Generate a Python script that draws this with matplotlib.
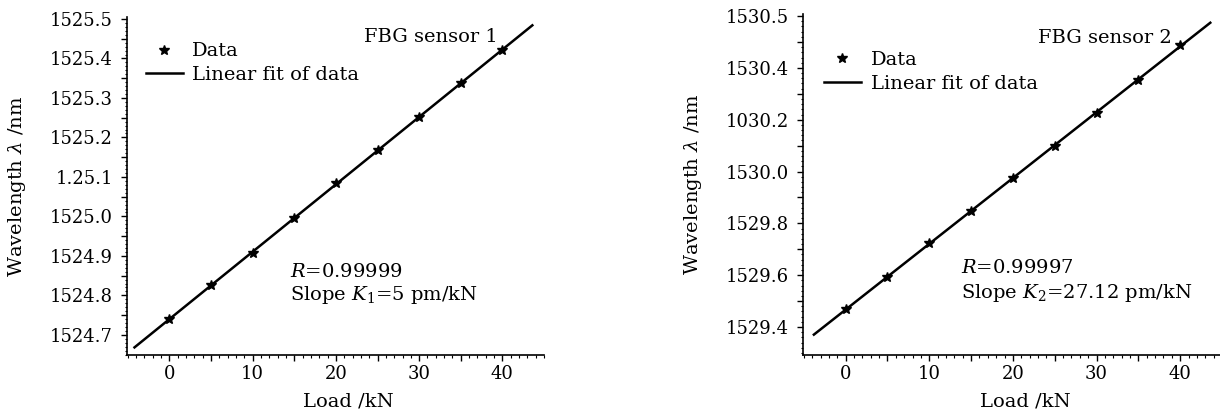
import numpy as np
import matplotlib
matplotlib.use("Agg")
import matplotlib.pyplot as plt
from matplotlib.ticker import FixedLocator, FixedFormatter, MultipleLocator

plt.rcParams['font.family'] = ['DejaVu Serif']
plt.rcParams['mathtext.fontset'] = 'dejavuserif'

# ---------------- data ----------------
load_kN = [0, 5, 10, 15, 20, 25, 30, 35, 40]
wl_sensor1 = [1524.740, 1524.827, 1524.907, 1524.995, 1525.084,
              1525.168, 1525.251, 1525.337, 1525.422]
wl_sensor2 = [1529.468, 1529.594, 1529.723, 1529.849, 1529.974,
              1530.099, 1530.225, 1530.354, 1530.489]
fit_range1 = [-4.2, 43.6]
fit_range2 = [-3.8, 43.6]

x_major = [0, 5, 10, 15, 20, 25, 30, 35, 40]
x_labels = ['0', '', '10', '', '20', '', '30', '', '40']

y1_major = [1524.70, 1524.75, 1524.80, 1524.85, 1524.90, 1524.95, 1525.00,
            1525.05, 1525.10, 1525.15, 1525.20, 1525.25, 1525.30, 1525.35,
            1525.40, 1525.45, 1525.50]
y1_labels = ['1524.7', '', '1524.8', '', '1524.9', '', '1525.0', '',
             '1.25.1', '', '1525.2', '', '1525.3', '', '1525.4', '', '1525.5']

y2_major = [1529.4, 1529.5, 1529.6, 1529.7, 1529.8, 1529.9, 1530.0,
            1530.1, 1530.2, 1530.3, 1530.4, 1530.5, 1530.6]
y2_labels = ['1529.4', '', '1529.6', '', '1529.8', '', '1530.0', '',
             '1030.2', '', '1530.4', '', '1530.5']

sensor_titles = ['FBG sensor 1', 'FBG sensor 2']
r_texts = [r'$R$=0.99999', r'$R$=0.99997']
slope_texts = [r'Slope $K_1$=5 pm/kN', r'Slope $K_2$=27.12 pm/kN']

# ---------------- figure ----------------
fig = plt.figure(figsize=(12.2, 4.16), dpi=100)
W, H = 1220, 416

def make_axes(l, r, t, b):
    return fig.add_axes([l / W, 1 - b / H, (r - l) / W, (b - t) / H])

ax1 = make_axes(127, 544, 17, 355)
ax2 = make_axes(803, 1222, 14, 355)

configs = [
    (ax1, wl_sensor1, fit_range1, y1_major, y1_labels, (1524.649, 1525.505), 0.01,
     (0.045, 0.925), (0.888, 0.940), (0.39, 0.246), (0.39, 0.178)),
    (ax2, wl_sensor2, fit_range2, y2_major, y2_labels, (1529.292, 1530.608), 0.02,
     (0.05, 0.892), (0.880, 0.930), (0.376, 0.255), (0.376, 0.182)),
]

TICK_FS = 13
TEXT_FS = 14

for i, (ax, wl, frange, ymaj, ylab, ylim, yminor, leg_anchor, title_pos,
        r_pos, s_pos) in enumerate(configs):
    coef = np.polyfit(load_kN, wl, 1)
    fx = np.array(frange)
    ax.plot(fx, np.polyval(coef, fx), color='black', lw=1.8,
            label='Linear fit of data', zorder=2)
    ax.plot(load_kN, wl, linestyle='none', marker='*', markersize=7.5,
            color='black', label='Data', zorder=3)

    ax.set_xlim(-5.1, 45)
    ax.set_ylim(*ylim)

    for s in ['top', 'right']:
        ax.spines[s].set_visible(False)
    for s in ['left', 'bottom']:
        ax.spines[s].set_linewidth(1.2)

    ax.xaxis.set_major_locator(FixedLocator(x_major))
    ax.xaxis.set_major_formatter(FixedFormatter(x_labels))
    ax.xaxis.set_minor_locator(MultipleLocator(1))
    ax.yaxis.set_major_locator(FixedLocator(ymaj))
    ax.yaxis.set_major_formatter(FixedFormatter(ylab))
    ax.yaxis.set_minor_locator(MultipleLocator(yminor))

    ax.tick_params(axis='both', which='major', direction='out', length=4,
                   width=1.0, labelsize=TICK_FS)
    ax.tick_params(axis='both', which='minor', direction='out', length=1.8,
                   width=0.8)
    ax.tick_params(axis='x', which='major', pad=3)
    ax.tick_params(axis='y', which='major', pad=6)

    ax.set_xlabel('Load /kN', fontsize=TEXT_FS)
    ax.xaxis.set_label_coords(0.53, -0.11)
    ax.xaxis.label.set_verticalalignment('top')
    ax.set_ylabel(r'Wavelength $\lambda$ /nm', fontsize=TEXT_FS)
    ax.yaxis.set_label_coords(-0.237, 0.5)

    handles, labels = ax.get_legend_handles_labels()
    order = [1, 0]
    ax.legend([handles[k] for k in order], [labels[k] for k in order],
              loc='upper left', bbox_to_anchor=leg_anchor, frameon=False,
              fontsize=TEXT_FS, handlelength=1.9, handletextpad=0.5,
              labelspacing=0.3, borderpad=0, borderaxespad=0)

    ax.text(title_pos[0], title_pos[1], sensor_titles[i], transform=ax.transAxes,
            ha='right', va='center', fontsize=TEXT_FS)
    ax.text(r_pos[0], r_pos[1], r_texts[i], transform=ax.transAxes,
            ha='left', va='center', fontsize=TEXT_FS)
    ax.text(s_pos[0], s_pos[1], slope_texts[i], transform=ax.transAxes,
            ha='left', va='center', fontsize=TEXT_FS)

fig.savefig('out.png', dpi=100)
